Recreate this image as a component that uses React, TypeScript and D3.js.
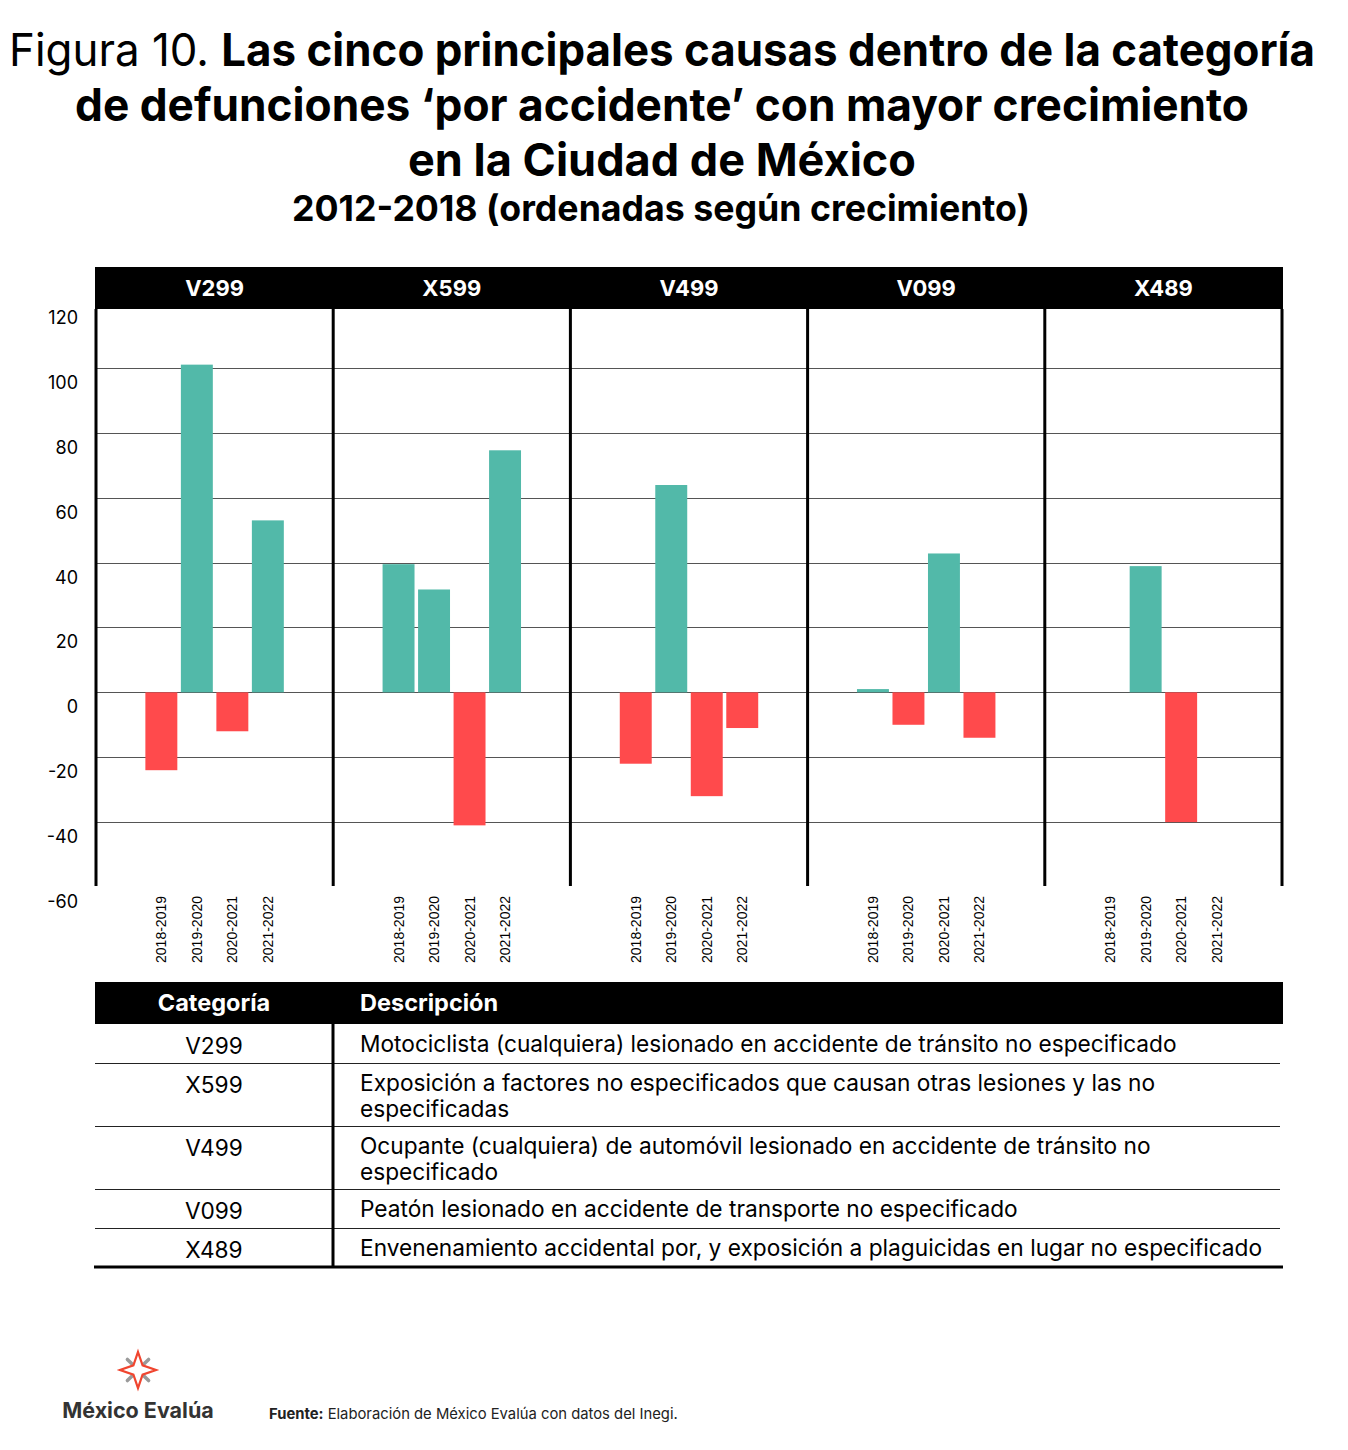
import * as d3 from "d3";

const categories = ["V299", "X599", "V499", "V099", "X489"];
const periods = ["2018-2019", "2019-2020", "2020-2021", "2021-2022"];

// growth (%) per period, one array per category; null = no bar
const v299 = [-24, 101, -12, 53];
const x599 = [39.5, 31.7, -41, 74.6];
const v499 = [-22, 63.9, -32, -11];
const v099 = [1, -10, 42.8, -14];
const x489 = [null, 38.9, -40, null];
const seriesByCategory = [v299, x599, v499, v099, x489];

const yTicks = [120, 100, 80, 60, 40, 20, 0, -20, -40, -60];

const descriptions = [
  "Motociclista (cualquiera) lesionado en accidente de tránsito no especificado",
  "Exposición a factores no especificados que causan otras lesiones y las no\nespecificadas",
  "Ocupante (cualquiera) de automóvil lesionado en accidente de tránsito no\nespecificado",
  "Peatón lesionado en accidente de transporte no especificado",
  "Envenenamiento accidental por, y exposición a plaguicidas en lugar no especificado",
];

const TEAL = "#52B9A9";
const RED = "#FF4A4C";
const FONT = "Inter, 'Open Sans', sans-serif";
const WIDTH = 1348;
const HEIGHT = 1450;

function Logo(props: { cx: number; cy: number }) {
  const { cx, cy } = props;
  const outer = 18;
  const inner = 6.5;
  const pts: [number, number][] = [];
  for (let i = 0; i < 8; i++) {
    const a = (Math.PI / 4) * i - Math.PI / 2;
    const r = i % 2 === 0 ? outer : inner;
    pts.push([cx + r * Math.cos(a), cy + r * Math.sin(a)]);
  }
  const diag = [45, 135, 225, 315].map((deg) => {
    const a = (deg * Math.PI) / 180;
    return {
      x1: cx + 8 * Math.cos(a),
      y1: cy + 8 * Math.sin(a),
      x2: cx + 15 * Math.cos(a),
      y2: cy + 15 * Math.sin(a),
    };
  });
  return (
    <g>
      {diag.map((d, i) => (
        <line
          key={i}
          {...d}
          stroke="#9a9a9a"
          strokeWidth={3.5}
          strokeLinecap="round"
        />
      ))}
      <polygon
        points={pts.map((p) => p.join(",")).join(" ")}
        fill="none"
        stroke="#F0452F"
        strokeWidth={2.2}
        strokeLinejoin="miter"
      />
    </g>
  );
}

export default function App() {
  // Chart dimensions
  const panelLeft = 96;
  const panelRight = 1282;
  const headerTop = 267;
  const headerBottom = 309;
  const plotBottom = 886;

  const xPanel = d3
    .scaleBand<string>()
    .domain(categories)
    .range([panelLeft, panelRight])
    .padding(0);

  const yScale = d3.scaleLinear().domain([-60, 120]).range([887, 303]);

  const groupWidth = 142;

  // table
  const tableTop = 982;
  const tableHeader = 42;
  const colSplit = 333;
  const lineGap = 26;
  const rowHeights = descriptions.map((d) => (d.includes("\n") ? 63 : 39));
  const rowTops: number[] = [];
  rowHeights.reduce((acc, h) => {
    rowTops.push(acc);
    return acc + h;
  }, tableTop + tableHeader);
  const tableBottom = tableTop + tableHeader + d3.sum(rowHeights);

  return (
    <svg
      width={WIDTH}
      height={HEIGHT}
      viewBox={`0 0 ${WIDTH} ${HEIGHT}`}
      style={{
        display: "block",
        position: "absolute",
        left: 0,
        top: 0,
        background: "#fff",
      }}
      fontFamily={FONT}
    >
      <rect width={WIDTH} height={HEIGHT} fill="#fff" />

      {/* Title */}
      <text
        x={662}
        y={66}
        textAnchor="middle"
        fontSize={45}
        fill="#000"
        textLength={1306}
        lengthAdjust="spacingAndGlyphs"
      >
        <tspan fontWeight={400}>Figura 10. </tspan>
        <tspan fontWeight={700}>
          Las cinco principales causas dentro de la categoría
        </tspan>
      </text>
      <text
        x={662}
        y={121}
        textAnchor="middle"
        fontSize={45}
        fontWeight={700}
        fill="#000"
        textLength={1174}
        lengthAdjust="spacingAndGlyphs"
      >
        de defunciones ‘por accidente’ con mayor crecimiento
      </text>
      <text
        x={662}
        y={176}
        textAnchor="middle"
        fontSize={45}
        fontWeight={700}
        fill="#000"
        textLength={508}
        lengthAdjust="spacingAndGlyphs"
      >
        en la Ciudad de México
      </text>
      <text
        x={661}
        y={221}
        textAnchor="middle"
        fontSize={36}
        fontWeight={700}
        fill="#000"
        textLength={738}
        lengthAdjust="spacingAndGlyphs"
      >
        2012-2018 (ordenadas según crecimiento)
      </text>

      {/* Panel header band */}
      <rect
        x={panelLeft - 1}
        y={headerTop}
        width={panelRight - panelLeft + 2}
        height={headerBottom - headerTop}
        fill="#000"
      />
      {categories.map((c) => (
        <text
          key={c}
          x={(xPanel(c) ?? 0) + xPanel.bandwidth() / 2}
          y={296}
          textAnchor="middle"
          fill="#fff"
          fontSize={22}
          fontWeight={700}
        >
          {c}
        </text>
      ))}

      {/* Horizontal gridlines */}
      {yTicks
        .filter((t) => t > -60 && t < 120)
        .map((t) => (
          <line
            key={t}
            x1={panelLeft}
            x2={panelRight}
            y1={Math.round(yScale(t)) + 0.5}
            y2={Math.round(yScale(t)) + 0.5}
            stroke="#555"
            strokeWidth={1}
          />
        ))}

      {/* Y axis labels (sit below their gridline, as in the original) */}
      {yTicks.map((t) => (
        <text
          key={t}
          x={78}
          y={yScale(t) + 21}
          textAnchor="end"
          fontSize={18}
          fill="#000"
        >
          {t}
        </text>
      ))}

      {/* Bars */}
      {categories.map((c, ci) => {
        const cx = (xPanel(c) ?? 0) + xPanel.bandwidth() / 2;
        const xBar = d3
          .scaleBand<string>()
          .domain(periods)
          .range([cx - groupWidth / 2, cx + groupWidth / 2])
          .paddingInner(0.1)
          .paddingOuter(0.05);
        const vals = seriesByCategory[ci];
        return (
          <g key={c}>
            {periods.map((p, pi) => {
              const v = vals[pi];
              if (v === null || v === undefined) return null;
              const y0 = yScale(0);
              const y1 = yScale(v);
              return (
                <rect
                  key={p}
                  x={xBar(p)}
                  y={Math.min(y0, y1)}
                  width={xBar.bandwidth()}
                  height={Math.abs(y1 - y0)}
                  fill={v >= 0 ? TEAL : RED}
                />
              );
            })}
            {periods.map((p) => {
              const tx = (xBar(p) ?? 0) + xBar.bandwidth() / 2 + 5;
              return (
                <text
                  key={p}
                  transform={`translate(${tx},896) rotate(-90)`}
                  textAnchor="end"
                  fontSize={14}
                  fontFamily="'Liberation Sans', Arial, sans-serif"
                  fill="#000"
                >
                  {p}
                </text>
              );
            })}
          </g>
        );
      })}

      {/* Panel dividers */}
      {[...categories.map((c) => xPanel(c) ?? 0), panelRight].map((x, i) => (
        <line
          key={i}
          x1={x}
          x2={x}
          y1={headerBottom}
          y2={plotBottom}
          stroke="#000"
          strokeWidth={3}
        />
      ))}

      {/* Table */}
      <rect x={95} y={tableTop} width={1188} height={tableHeader} fill="#000" />
      <text
        x={214}
        y={tableTop + 29}
        textAnchor="middle"
        fill="#fff"
        fontSize={23.5}
        fontWeight={700}
      >
        Categoría
      </text>
      <text
        x={360}
        y={tableTop + 29}
        fill="#fff"
        fontSize={23.5}
        fontWeight={700}
      >
        Descripción
      </text>
      {categories.map((c, i) => {
        const top = rowTops[i];
        const lines = descriptions[i].split("\n");
        return (
          <g key={c}>
            <text
              x={214}
              y={top + 30}
              textAnchor="middle"
              fontSize={22.7}
              fill="#000"
            >
              {c}
            </text>
            {lines.map((l, li) => (
              <text
                key={li}
                x={360}
                y={top + 28 + li * lineGap}
                fontSize={22.7}
                fill="#000"
              >
                {l}
              </text>
            ))}
            {i < categories.length - 1 && (
              <line
                x1={95}
                x2={1280}
                y1={top + rowHeights[i] + 0.5}
                y2={top + rowHeights[i] + 0.5}
                stroke="#222"
                strokeWidth={1}
              />
            )}
          </g>
        );
      })}
      <line
        x1={colSplit}
        x2={colSplit}
        y1={tableTop}
        y2={tableBottom}
        stroke="#000"
        strokeWidth={3}
      />
      <line
        x1={94}
        x2={1283}
        y1={tableBottom}
        y2={tableBottom}
        stroke="#000"
        strokeWidth={3}
      />

      {/* Footer */}
      <Logo cx={138} cy={1370} />
      <text
        x={138}
        y={1418}
        textAnchor="middle"
        fontSize={21.5}
        fontWeight={700}
        fill="#333"
      >
        México Evalúa
      </text>
      <text x={269} y={1419} fontSize={14.8} fill="#222">
        <tspan fontWeight={700}>Fuente:</tspan>
        <tspan> Elaboración de México Evalúa con datos del Inegi.</tspan>
      </text>
    </svg>
  );
}
